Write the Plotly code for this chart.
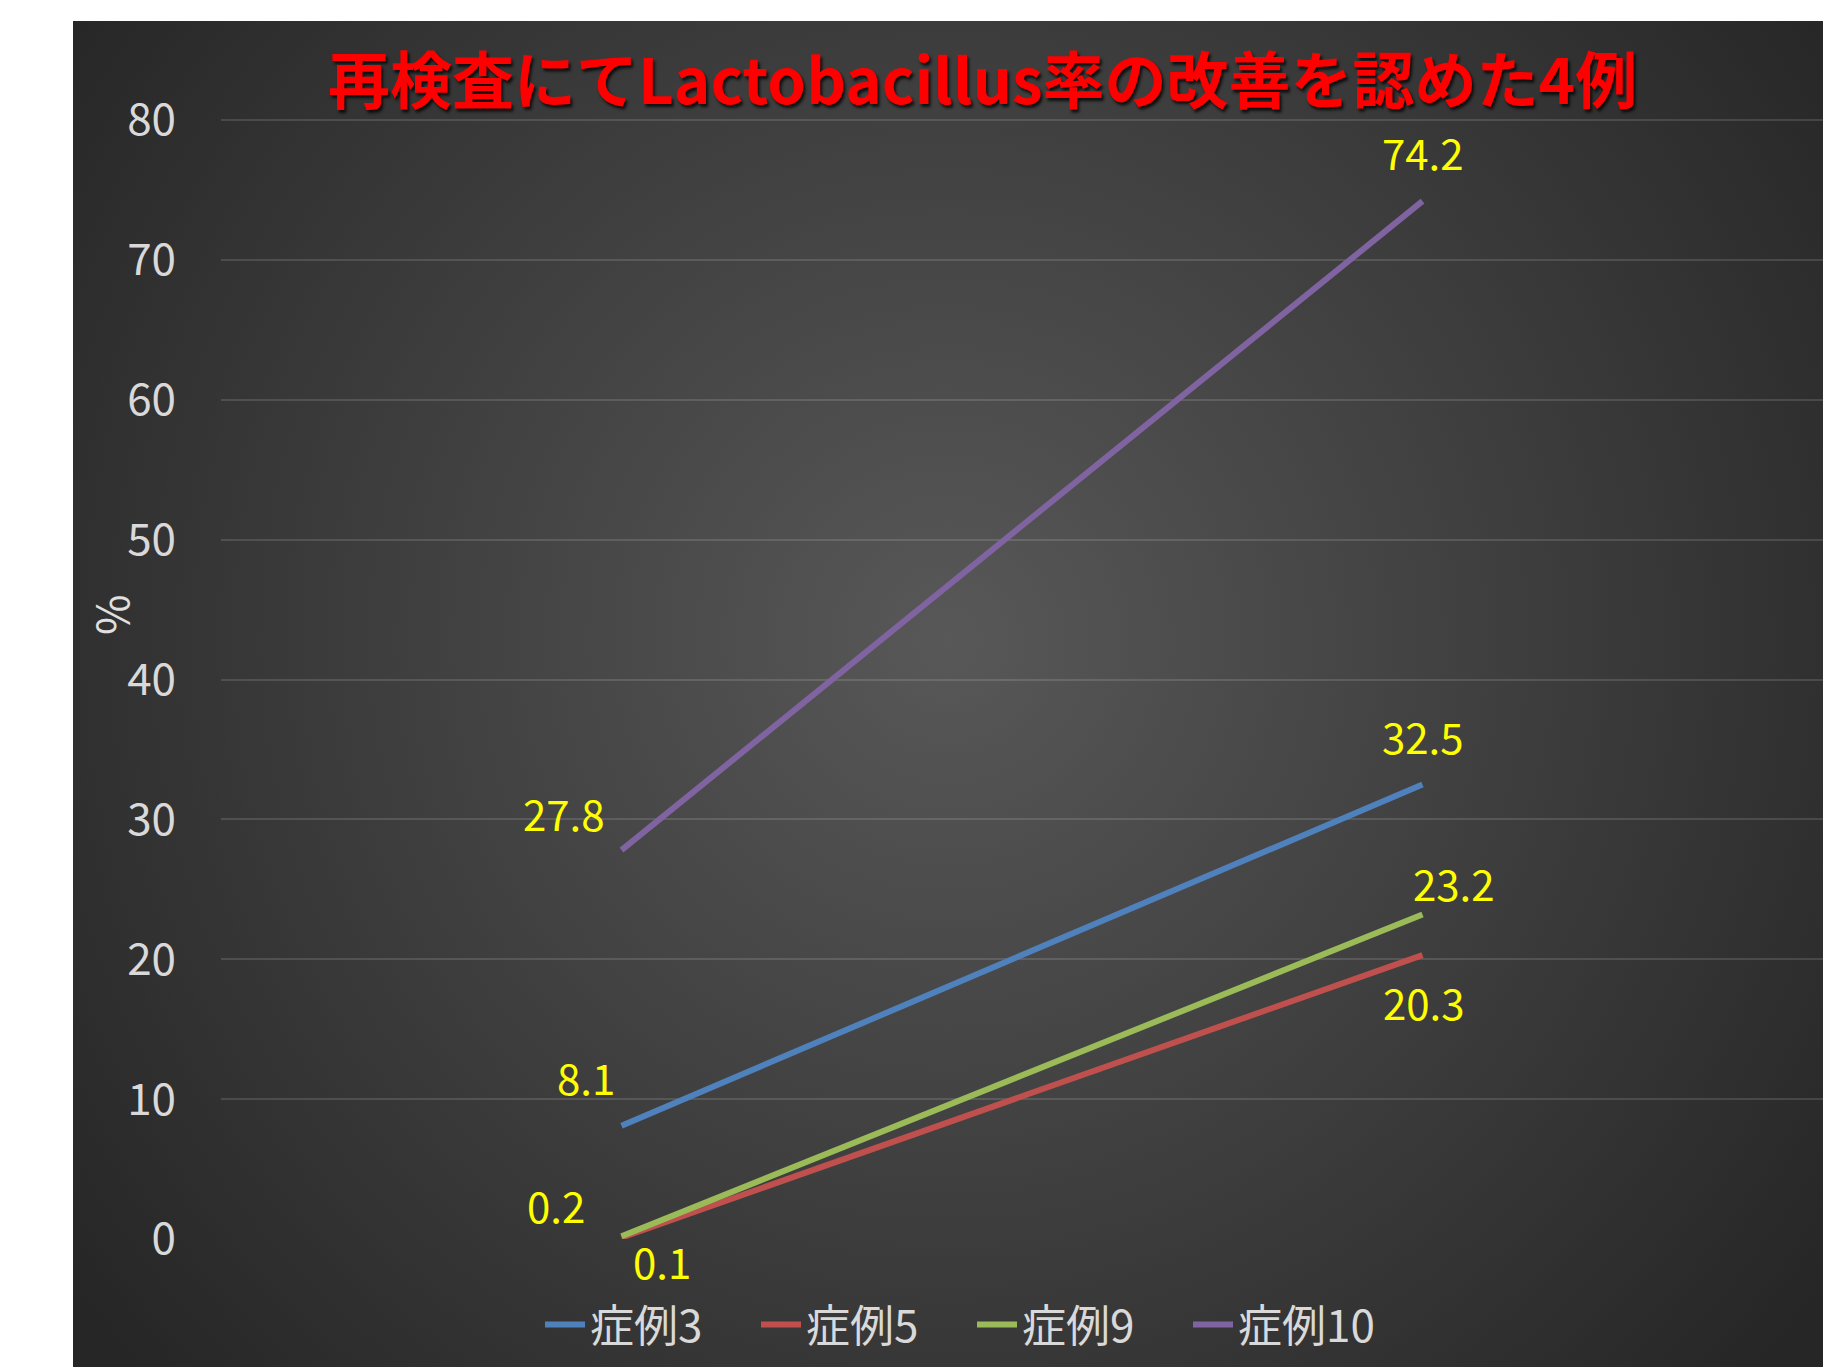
import base64
import plotly.graph_objects as go

# ---------------- data ----------------
categories = ["初回", "再検査"]
series_names = ["症例3", "症例5", "症例9", "症例10"]
case3 = [8.1, 32.5]
case5 = [0.1, 20.3]
case9 = [0.2, 23.2]
case10 = [27.8, 74.2]
y_ticks = [0, 10, 20, 30, 40, 50, 60, 70, 80]
title_text = "再検査にてLactobacillus率の改善を認めた4例"
y_title = "%"

series_values = [case3, case5, case9, case10]

# ---------------- styles ----------------
colors = ["#4f81bd", "#c0504d", "#9bbb59", "#8064a2"]
# data-label pixel offsets (dx, dy) per series / point (style only)
label_offsets = [
    [(-36, 49), (0, 49)],
    [(40, -23), (1, -46)],
    [(-66, 32), (31, 32)],
    [(-58, 38), (0, 50)],
]

W, H = 1823, 1367
L, R, T, B = 221, 0, 116, 128
PW, PH = W - L - R, H - T - B
FONT = "Noto Sans CJK JP"
Y_TOP_PX = 120                      # pixel row of the 80 gridline
Y_MAX = 80 * (H - B - T) / (H - B - Y_TOP_PX)


def px(xp):
    return (xp - L) / PW


def py(yp):
    return (H - B - yp) / PH


fig = go.Figure()
for name, vals, col in zip(series_names, series_values, colors):
    fig.add_trace(go.Scatter(
        x=categories, y=vals, name=name, mode="lines",
        line=dict(color=col, width=6),
        hoverinfo="skip",
    ))

# data labels anchored at data coordinates
for vals, offs in zip(series_values, label_offsets):
    for cat, v, (dx, dy) in zip(categories, vals, offs):
        fig.add_annotation(
            x=cat, y=v, xref="x", yref="y", text=f"{v}", showarrow=False,
            xshift=dx, yshift=dy, borderpad=0,
            font=dict(family=FONT, size=42, color="#ffff00"),
        )

# background: radial gradient of the chart area
bx0, by0, bx1, by1 = 73, 21, W, H
bw, bh = bx1 - bx0, by1 - by0
svg = (
    f'<svg xmlns="http://www.w3.org/2000/svg" width="{bw}" height="{bh}">'
    '<defs><radialGradient id="g" gradientUnits="userSpaceOnUse" '
    f'cx="{bw*0.5:.0f}" cy="{bh*0.46:.0f}" r="1090">'
    '<stop offset="0" stop-color="#585858"/>'
    '<stop offset="1" stop-color="#262626"/>'
    '</radialGradient></defs>'
    f'<rect width="{bw}" height="{bh}" fill="url(#g)"/></svg>'
)
src = "data:image/svg+xml;base64," + base64.b64encode(svg.encode()).decode()
fig.add_layout_image(dict(
    source=src, xref="paper", yref="paper",
    x=px(bx0), y=py(by0), sizex=bw / PW, sizey=bh / PH,
    xanchor="left", yanchor="top", sizing="stretch", layer="below",
))

# title
fig.add_annotation(
    x=px(982), y=py(77), xref="paper", yref="paper", text=f"<b>{title_text}</b>",
    showarrow=False, xanchor="center", yanchor="middle",
    font=dict(family=FONT, size=62, color="#ff0000",
              shadow="2px 3px 3px rgba(0,0,0,0.75)"),
)
# y-axis title
fig.add_annotation(
    x=px(110), y=py(615), xref="paper", yref="paper", text=y_title,
    showarrow=False, textangle=-90, xanchor="center", yanchor="middle",
    font=dict(family=FONT, size=44, color="#e0e0e0"),
)

fig.update_layout(
    width=W, height=H,
    margin=dict(l=L, r=R, t=T, b=B, pad=0),
    paper_bgcolor="#ffffff",
    plot_bgcolor="rgba(0,0,0,0)",
    showlegend=True,
    legend=dict(
        orientation="h", x=px(972), y=py(1325), xanchor="center", yanchor="middle",
        font=dict(family=FONT, size=44, color="#d9d9d9"),
        bgcolor="rgba(0,0,0,0)", itemwidth=40, tracegroupgap=0,
        entrywidth=161, entrywidthmode="pixels",
    ),
    xaxis=dict(
        type="category", range=[-0.5, 1.5], showgrid=False, showticklabels=False,
        zeroline=False, showline=False, ticks="", fixedrange=True,
    ),
    yaxis=dict(
        range=[0, Y_MAX], tickvals=y_ticks, showgrid=True,
        gridcolor="rgba(255,255,255,0.13)", gridwidth=2,
        zeroline=False, showline=False, ticks="",
        tickfont=dict(family=FONT, size=44, color="#d9d9d9"),
        ticklabelstandoff=44,
    ),
)

fig.write_html(
    "out.html",
    config={"displayModeBar": False},
    post_script="document.body.style.margin='0';document.body.style.overflow='hidden';",
)
